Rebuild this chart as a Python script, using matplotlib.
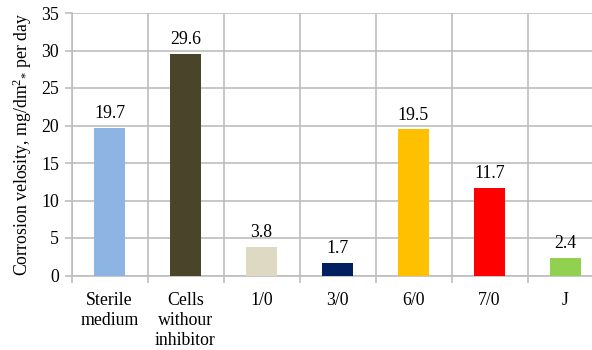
import numpy as np
import matplotlib.pyplot as plt

plt.rcParams['font.family'] = 'Liberation Serif'
plt.rcParams['mathtext.fontset'] = 'custom'
plt.rcParams['mathtext.rm'] = 'Liberation Serif'
plt.rcParams['mathtext.it'] = 'Liberation Serif:italic'

categories = ['Sterile\nmedium', 'Cells\nwithour\ninhibitor', '1/0', '3/0', '6/0', '7/0', 'J']
velocity = [19.7, 29.6, 3.8, 1.7, 19.5, 11.7, 2.4]
colors = ['#8DB4E2', '#4A452A', '#DDD9C3', '#002060', '#FFC000', '#FF0000', '#92D050']
yticks = [0, 5, 10, 15, 20, 25, 30, 35]

fig = plt.figure(figsize=(5.92, 3.5), dpi=100)
# plot area runs a little past the right edge of the figure
ax = fig.add_axes([71.5 / 592, 74.5 / 350, 532 / 592, 262.5 / 350])

x = np.arange(len(categories))
bars = ax.bar(x, velocity, width=0.4, color=colors, zorder=3)

for b, v in zip(bars, velocity):
    ax.annotate(f'{v:.1f}', (b.get_x() + b.get_width() / 2, v), xytext=(0, 4),
                textcoords='offset points', ha='center', va='bottom', fontsize=12.8)

grid_col = '#BEBEBE'
ax.set_xlim(-0.5, len(categories) - 0.5)
ax.set_ylim(0, 35)
ax.set_yticks(yticks)
ax.set_xticks(x)
ax.set_xticklabels(categories, fontsize=12.8, linespacing=1.22)
ax.set_xticks(np.arange(len(categories) + 1) - 0.5, minor=True)
ax.tick_params(axis='x', which='major', length=0, pad=12)
ax.tick_params(axis='x', which='minor', length=5, color=grid_col, width=1.2)
ax.tick_params(axis='y', length=5, color=grid_col, width=1.2, labelsize=12.8, pad=4)

ax.grid(axis='y', which='major', color=grid_col, linewidth=1.2, zorder=0)
ax.grid(axis='x', which='minor', color=grid_col, linewidth=1.2, zorder=0)

for s in ['top', 'right']:
    ax.spines[s].set_visible(False)
for s in ['left', 'bottom']:
    ax.spines[s].set_color(grid_col)
    ax.spines[s].set_linewidth(1.2)

ax.set_ylabel(r'Corrosion velosity, mg/dm$^{2}$$_{*}$ per day', fontsize=12.8, labelpad=5)

plt.savefig('out.png', dpi=100)
